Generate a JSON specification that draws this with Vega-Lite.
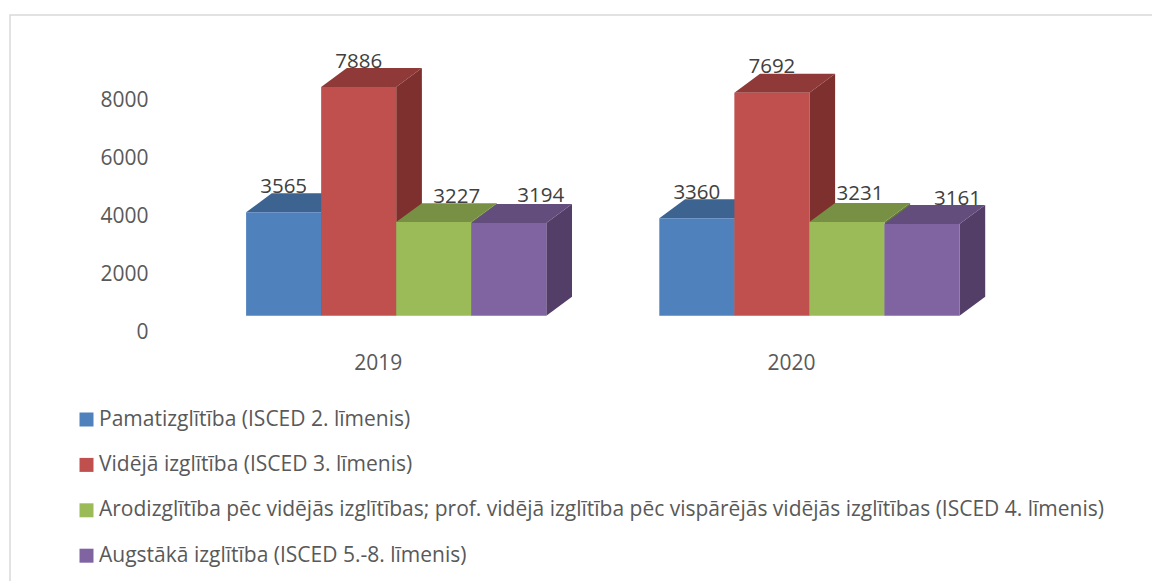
{
"$schema":"https://vega.github.io/schema/vega-lite/v6.json",
"width":1144,"height":568,
"autosize":{"type":"none"},
"padding":{"left":10,"top":15,"right":0,"bottom":0},
"background":"white",
"config":{"view":{"stroke":"#D9D9D9","strokeWidth":1.5},"font":"Open Sans"},
"data":{"values":[
{"year":2019,"level":"Pamatizglītība (ISCED 2. līmenis)","value":3565},
{"year":2019,"level":"Vidējā izglītība (ISCED 3. līmenis)","value":7886},
{"year":2019,"level":"Arodizglītība pēc vidējās izglītības; prof. vidējā izglītība pēc vispārējās vidējās izglītības (ISCED 4. līmenis)","value":3227},
{"year":2019,"level":"Augstākā izglītība (ISCED 5.-8. līmenis)","value":3194},
{"year":2020,"level":"Pamatizglītība (ISCED 2. līmenis)","value":3360},
{"year":2020,"level":"Vidējā izglītība (ISCED 3. līmenis)","value":7692},
{"year":2020,"level":"Arodizglītība pēc vidējās izglītības; prof. vidējā izglītība pēc vispārējās vidējās izglītības (ISCED 4. līmenis)","value":3231},
{"year":2020,"level":"Augstākā izglītība (ISCED 5.-8. līmenis)","value":3161}
]},
"transform":[
{"calculate":"datum.level[0]=='P'?0:datum.level[0]=='V'?1:datum.level[0]=='A'&&datum.level[1]=='r'?2:3","as":"slot"},
{"calculate":"datum.year+(datum.slot-2)*0.18163","as":"xl"},
{"calculate":"datum.xl+0.18163","as":"xr"}
],
"encoding":{
"x":{"field":"xv","type":"quantitative","scale":{"domain":[2018.06534,2020.83397],"nice":false,"zero":false},
"axis":{"title":null,"values":[2019,2020],"format":"d","grid":false,"domain":false,"ticks":false,"offset":-267.3,"labelPadding":37,"labelOffset":-18.5,"labelFontSize":21,"labelColor":"#595959","labelFont":"Open Sans"}},
"y":{"field":"yv","type":"quantitative","scale":{"domain":[-9217,10369],"nice":false,"zero":false},
"axis":{"title":null,"values":[0,2000,4000,6000,8000],"format":"d","grid":false,"domain":false,"ticks":false,"offset":-138,"labelPadding":0,"labelOffset":16.5,"labelFontSize":21,"labelColor":"#595959","labelFont":"Open Sans"}}
},
"layer":[
{"transform":[
{"calculate":"[0,1]","as":"t"},{"flatten":["t"]},
{"calculate":"datum.xr+datum.t*0.0622","as":"xv"},
{"calculate":"datum.t*655","as":"yb"},
{"calculate":"datum.value+datum.t*655","as":"yv"}],
"mark":{"type":"area","interpolate":"linear"},
"encoding":{"y2":{"field":"yb"},"detail":{"field":"year"},
"color":{"field":"level","type":"nominal","legend":null,"sort":null,"scale":{"domain":["Pamatizglītība (ISCED 2. līmenis)","Vidējā izglītība (ISCED 3. līmenis)","Arodizglītība pēc vidējās izglītības; prof. vidējā izglītība pēc vispārējās vidējās izglītības (ISCED 4. līmenis)","Augstākā izglītība (ISCED 5.-8. līmenis)"],"range":["#33547A","#7D302E","#647A3A","#533E68"]}}}},
{"transform":[
{"calculate":"[0,1,2,3]","as":"t"},{"flatten":["t"]},
{"calculate":"datum.xl+[0,0.0622,0.18163,0.24383][datum.t]","as":"xv"},
{"calculate":"datum.value+(datum.t>0?655:0)","as":"yv"},
{"calculate":"datum.value+(datum.t==3?655:0)","as":"yb"}],
"mark":{"type":"area","interpolate":"linear"},
"encoding":{"y2":{"field":"yb"},"detail":{"field":"year"},
"color":{"field":"level","type":"nominal","legend":null,"sort":null,"scale":{"domain":["Pamatizglītība (ISCED 2. līmenis)","Vidējā izglītība (ISCED 3. līmenis)","Arodizglītība pēc vidējās izglītības; prof. vidējā izglītība pēc vispārējās vidējās izglītības (ISCED 4. līmenis)","Augstākā izglītība (ISCED 5.-8. līmenis)"],"range":["#3D6390","#8F3A38","#779044","#634D7D"]}}}},
{"transform":[{"calculate":"datum.xl","as":"xv"},{"calculate":"datum.value","as":"yv"}],
"mark":{"type":"rect"},
"encoding":{"x2":{"field":"xr"},"y2":{"datum":0},
"color":{"field":"level","type":"nominal","sort":null,"scale":{"domain":["Pamatizglītība (ISCED 2. līmenis)","Vidējā izglītība (ISCED 3. līmenis)","Arodizglītība pēc vidējās izglītības; prof. vidējā izglītība pēc vispārējās vidējās izglītības (ISCED 4. līmenis)","Augstākā izglītība (ISCED 5.-8. līmenis)"],"range":["#4F81BD","#C0504D","#9BBB59","#8064A2"]},
"legend":{"title":null,"orient":"none","legendX":66,"legendY":394,"symbolType":"square","symbolSize":196,"symbolStrokeWidth":0,"labelFontSize":21,"labelFont":"Open Sans","labelColor":"#595959","labelLimit":1100,"rowPadding":23.4,"labelOffset":2,"padding":0,"symbolOpacity":1}}}},
{"transform":[{"filter":"datum.slot<2"},{"calculate":"(datum.xl+datum.xr)/2","as":"xv"},{"calculate":"datum.value","as":"yv"}],
"mark":{"type":"text","font":"Open Sans","fontSize":20.5,"color":"#404040","dx":0,"dy":-25.5,"baseline":"middle"},
"encoding":{"text":{"field":"value","type":"quantitative","format":"d"}}},
{"transform":[{"filter":"datum.value==3227"},{"calculate":"(datum.xl+datum.xr)/2","as":"xv"},{"calculate":"datum.value","as":"yv"}],
"mark":{"type":"text","font":"Open Sans","fontSize":20.5,"color":"#404040","dx":23,"dy":-25.3,"baseline":"middle"},
"encoding":{"text":{"field":"value","type":"quantitative","format":"d"}}},
{"transform":[{"filter":"datum.value==3194"},{"calculate":"(datum.xl+datum.xr)/2","as":"xv"},{"calculate":"datum.value","as":"yv"}],
"mark":{"type":"text","font":"Open Sans","fontSize":20.5,"color":"#404040","dx":32,"dy":-27,"baseline":"middle"},
"encoding":{"text":{"field":"value","type":"quantitative","format":"d"}}},
{"transform":[{"filter":"datum.value==3231"},{"calculate":"(datum.xl+datum.xr)/2","as":"xv"},{"calculate":"datum.value","as":"yv"}],
"mark":{"type":"text","font":"Open Sans","fontSize":20.5,"color":"#404040","dx":13,"dy":-28,"baseline":"middle"},
"encoding":{"text":{"field":"value","type":"quantitative","format":"d"}}},
{"transform":[{"filter":"datum.value==3161"},{"calculate":"(datum.xl+datum.xr)/2","as":"xv"},{"calculate":"datum.value","as":"yv"}],
"mark":{"type":"text","font":"Open Sans","fontSize":20.5,"color":"#404040","dx":35.5,"dy":-25.3,"baseline":"middle"},
"encoding":{"text":{"field":"value","type":"quantitative","format":"d"}}}
],
"resolve":{"scale":{"color":"independent"}}
}
